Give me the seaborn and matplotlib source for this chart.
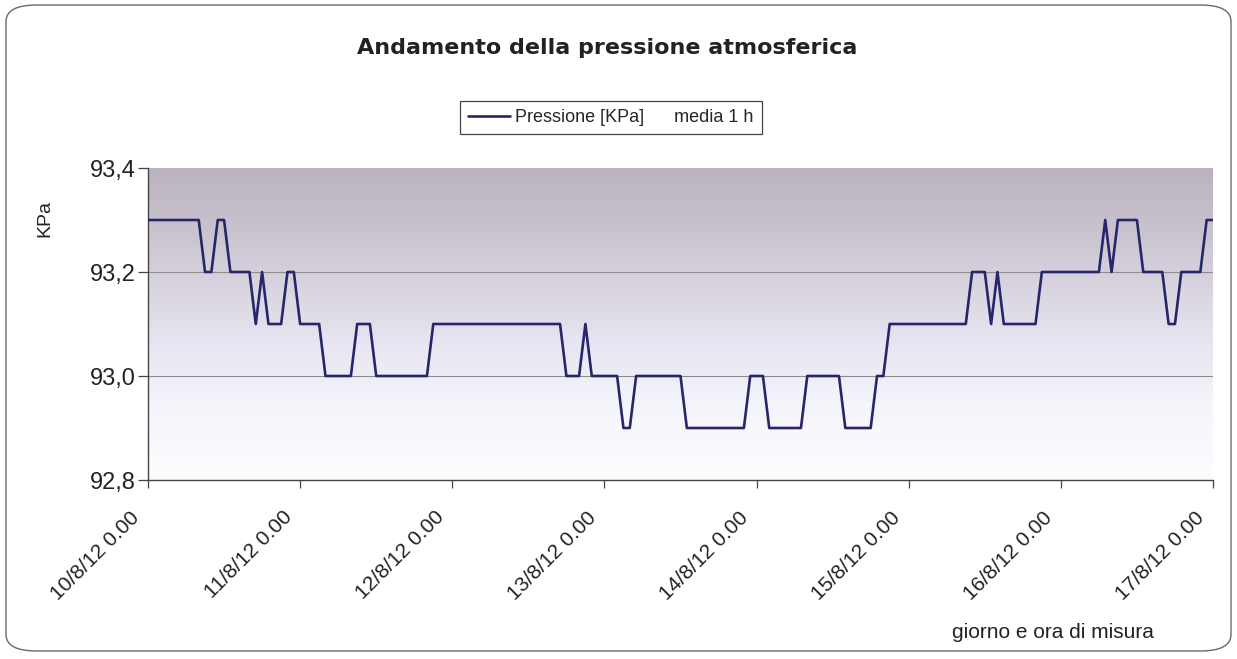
import matplotlib
matplotlib.use("Agg")
import numpy as np
import pandas as pd
import matplotlib.pyplot as plt
import matplotlib.transforms as mtransforms
import seaborn as sns
from matplotlib.colors import LinearSegmentedColormap
from matplotlib.patches import FancyBboxPatch

# ---- data (hourly means, KPa), one row per day starting 10/8/12 0.00 ----
day1 = [93.3, 93.3, 93.3, 93.3, 93.3, 93.3, 93.3, 93.3, 93.3, 93.2, 93.2, 93.3,
        93.3, 93.2, 93.2, 93.2, 93.2, 93.1, 93.2, 93.1, 93.1, 93.1, 93.2, 93.2]
day2 = [93.1, 93.1, 93.1, 93.1, 93.0, 93.0, 93.0, 93.0, 93.0, 93.1, 93.1, 93.1,
        93.0, 93.0, 93.0, 93.0, 93.0, 93.0, 93.0, 93.0, 93.0, 93.1, 93.1, 93.1]
day3 = [93.1, 93.1, 93.1, 93.1, 93.1, 93.1, 93.1, 93.1, 93.1, 93.1, 93.1, 93.1,
        93.1, 93.1, 93.1, 93.1, 93.1, 93.1, 93.0, 93.0, 93.0, 93.1, 93.0, 93.0]
day4 = [93.0, 93.0, 93.0, 92.9, 92.9, 93.0, 93.0, 93.0, 93.0, 93.0, 93.0, 93.0,
        93.0, 92.9, 92.9, 92.9, 92.9, 92.9, 92.9, 92.9, 92.9, 92.9, 92.9, 93.0]
day5 = [93.0, 93.0, 92.9, 92.9, 92.9, 92.9, 92.9, 92.9, 93.0, 93.0, 93.0, 93.0,
        93.0, 93.0, 92.9, 92.9, 92.9, 92.9, 92.9, 93.0, 93.0, 93.1, 93.1, 93.1]
day6 = [93.1, 93.1, 93.1, 93.1, 93.1, 93.1, 93.1, 93.1, 93.1, 93.1, 93.2, 93.2,
        93.2, 93.1, 93.2, 93.1, 93.1, 93.1, 93.1, 93.1, 93.1, 93.2, 93.2, 93.2]
day7 = [93.2, 93.2, 93.2, 93.2, 93.2, 93.2, 93.2, 93.3, 93.2, 93.3, 93.3, 93.3,
        93.3, 93.2, 93.2, 93.2, 93.2, 93.1, 93.1, 93.2, 93.2, 93.2, 93.2, 93.3,
        93.3]
pressure = day1 + day2 + day3 + day4 + day5 + day6 + day7
hours = list(range(len(pressure)))

tick_hours = [0, 24, 48, 72, 96, 120, 144, 168]
tick_labels = ["10/8/12 0.00", "11/8/12 0.00", "12/8/12 0.00", "13/8/12 0.00",
               "14/8/12 0.00", "15/8/12 0.00", "16/8/12 0.00", "17/8/12 0.00"]
y_ticks = [92.8, 93.0, 93.2, 93.4]
y_tick_labels = ["92,8", "93,0", "93,2", "93,4"]

title = "Andamento della pressione atmosferica"
series_label = "Pressione [KPa]      media 1 h"

df = pd.DataFrame({"ora": hours, "pressione": pressure})

# ---- style ----
sns.set_theme(style="white")
plt.rcParams["font.family"] = ["Liberation Sans", "DejaVu Sans"]

W, H = 1237, 659
fig = plt.figure(figsize=(W / 100, H / 100), dpi=100)
fig.patch.set_facecolor("white")

# rounded outer border
border = FancyBboxPatch((6 / W, 8 / H), 1225 / W, 646 / H,
                        boxstyle="round,pad=0,rounding_size=0.025",
                        transform=fig.transFigure, fill=False,
                        edgecolor="#6a6a6a", linewidth=1.0)
fig.patches.append(border)

left, right, top, bottom = 148, 1213, 168, 480
ax = fig.add_axes([left / W, 1 - bottom / H, (right - left) / W, (bottom - top) / H])

# gradient background of the plot area
cmap = LinearSegmentedColormap.from_list(
    "bg", [(0.0, "#fdfdff"), (0.25, "#f4f4fb"), (0.45, "#e6e4f0"),
           (0.7, "#d2ccd8"), (1.0, "#bab2be")])
grad = np.linspace(0, 1, 256).reshape(-1, 1)
ax.imshow(grad, aspect="auto", cmap=cmap, origin="lower",
          extent=[0, 1, 0, 1], transform=ax.transAxes, zorder=0)

for yv in [93.0, 93.2]:
    ax.axhline(yv, color="#8c8c8c", linewidth=0.8, zorder=1)

sns.lineplot(data=df, x="ora", y="pressione", ax=ax, color="#26266a",
             linewidth=1.9, label=series_label, zorder=3)

ax.set_xlim(0, 168)
ax.set_ylim(92.8, 93.4)
ax.set_xticks(tick_hours)
ax.set_xticklabels(tick_labels, rotation=45, ha="right", rotation_mode="anchor",
                   fontsize=15, color="#222222")
ax.set_yticks(y_ticks)
ax.set_yticklabels(y_tick_labels, fontsize=17, color="#222222")
ax.set_xlabel("")
ax.set_ylabel("")
ax.grid(False)

for s in ["top", "right"]:
    ax.spines[s].set_visible(False)
for s in ["left", "bottom"]:
    ax.spines[s].set_color("#444444")
    ax.spines[s].set_linewidth(1.0)

ax.tick_params(axis="y", direction="out", length=7, width=0.9, color="#444444", pad=2, left=True)
ax.tick_params(axis="x", direction="out", length=6, width=0.9, color="#444444", pad=1, bottom=True)

# shift rotated tick labels down-left like the original
offset = mtransforms.ScaledTranslation(-18 / 100, -18 / 100, fig.dpi_scale_trans)
for lbl in ax.get_xticklabels():
    lbl.set_transform(lbl.get_transform() + offset)

# legend
leg = ax.legend(loc="center", bbox_to_anchor=(611 / W, 1 - 117.5 / H),
                bbox_transform=fig.transFigure, frameon=True, fancybox=False,
                edgecolor="#444444", framealpha=1, facecolor="white",
                handlelength=2.3, handletextpad=0.3, borderpad=0.45,
                prop={"size": 13})
leg.get_frame().set_linewidth(0.9)

# texts
fig.text(607 / W, 1 - 48 / H, title, ha="center", va="center",
         fontsize=16, fontweight="bold", family=["DejaVu Sans"], color="#222222")
fig.text(45 / W, 1 - 218 / H, "KPa", rotation=90, ha="center", va="center",
         fontsize=14, color="#222222")
fig.text(952 / W, 1 - 633 / H, "giorno e ora di misura", ha="left", va="center",
         fontsize=15, color="#222222")

fig.savefig("out.png", dpi=100)
